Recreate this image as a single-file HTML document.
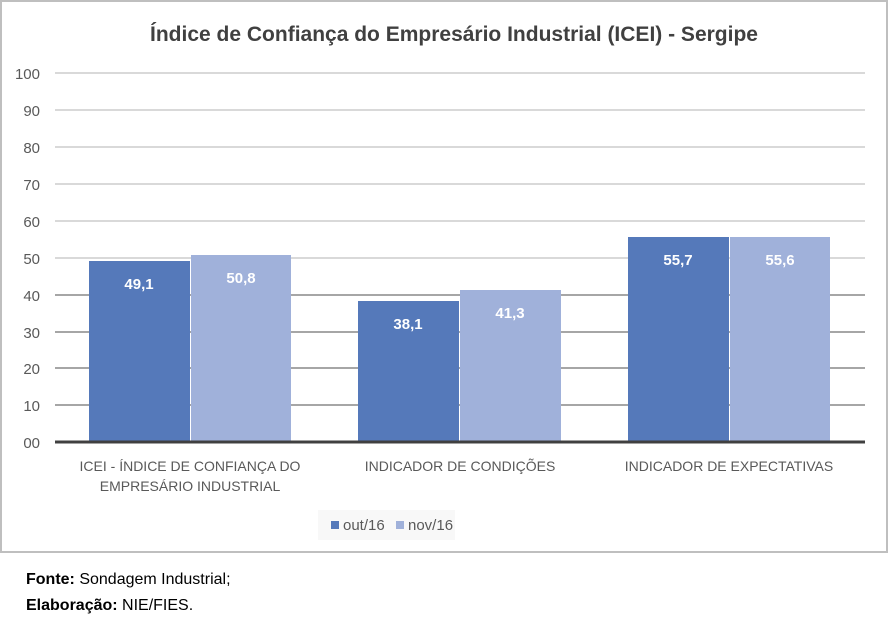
<!DOCTYPE html>
<html><head><meta charset="utf-8"><style>
body{margin:0;background:#fff;width:888px;height:627px;position:relative;font-family:"Liberation Sans",sans-serif;overflow:hidden}
.frame{position:absolute;left:0;top:0;width:884px;height:549px;border:2px solid #bfbfbf}
.t{position:absolute;white-space:nowrap}
</style></head><body>
<div class="frame"></div>
<svg width="888" height="627" style="position:absolute;left:0;top:0" font-family="Liberation Sans, sans-serif">
<text x="454" y="41" text-anchor="middle" font-size="21" font-weight="bold" fill="#404040">Índice de Confiança do Empresário Industrial (ICEI) - Sergipe</text>
<g stroke="#d9d9d9" stroke-width="2">
<line x1="55" x2="865" y1="73" y2="73"/><line x1="55" x2="865" y1="110" y2="110"/><line x1="55" x2="865" y1="147" y2="147"/><line x1="55" x2="865" y1="184" y2="184"/><line x1="55" x2="865" y1="221" y2="221"/><line x1="55" x2="865" y1="258" y2="258"/>
</g>
<g stroke="#a6a6a6" stroke-width="2">
<line x1="55" x2="865" y1="295" y2="295"/><line x1="55" x2="865" y1="332" y2="332"/><line x1="55" x2="865" y1="368" y2="368"/><line x1="55" x2="865" y1="405" y2="405"/>
</g>
<g font-size="15" fill="#595959" text-anchor="end">
<text x="40" y="79">100</text><text x="40" y="116">90</text><text x="40" y="153">80</text><text x="40" y="190">70</text><text x="40" y="227">60</text><text x="40" y="264">50</text><text x="40" y="301">40</text><text x="40" y="338">30</text><text x="40" y="374">20</text><text x="40" y="411">10</text><text x="40" y="448">00</text>
</g>
<g fill="#5579ba">
<rect x="89" y="261" width="101" height="181"/><rect x="358" y="301" width="101" height="141"/><rect x="628" y="237" width="101" height="205"/>
</g>
<g fill="#a0b1da">
<rect x="191" y="255" width="100" height="187"/><rect x="460" y="290" width="101" height="152"/><rect x="730" y="237" width="100" height="205"/>
</g>
<line x1="55" x2="865" y1="442" y2="442" stroke="#404040" stroke-width="3"/>
<g font-size="15" font-weight="bold" fill="#fff" text-anchor="middle">
<text x="139" y="289">49,1</text><text x="241" y="283">50,8</text>
<text x="408" y="329">38,1</text><text x="510" y="318">41,3</text>
<text x="678" y="265">55,7</text><text x="780" y="265">55,6</text>
</g>
<g font-size="14" fill="#595959" text-anchor="middle">
<text x="190" y="471">ICEI - ÍNDICE DE CONFIANÇA DO</text><text x="190" y="491">EMPRESÁRIO INDUSTRIAL</text>
<text x="460" y="471">INDICADOR DE CONDIÇÕES</text>
<text x="729" y="471">INDICADOR DE EXPECTATIVAS</text>
</g>
<rect x="318" y="510" width="137" height="30" fill="#f8f8f8"/>
<rect x="331" y="521" width="8" height="8" fill="#5579ba"/>
<text x="343" y="530" font-size="15" fill="#595959">out/16</text>
<rect x="396" y="521" width="8" height="8" fill="#a0b1da"/>
<text x="408" y="530" font-size="15" fill="#595959">nov/16</text>
<text x="26" y="584" font-size="16" fill="#000"><tspan font-weight="bold">Fonte:</tspan> Sondagem Industrial;</text>
<text x="26" y="610" font-size="16" fill="#000"><tspan font-weight="bold">Elaboração:</tspan> NIE/FIES.</text>
</svg>
</body></html>
